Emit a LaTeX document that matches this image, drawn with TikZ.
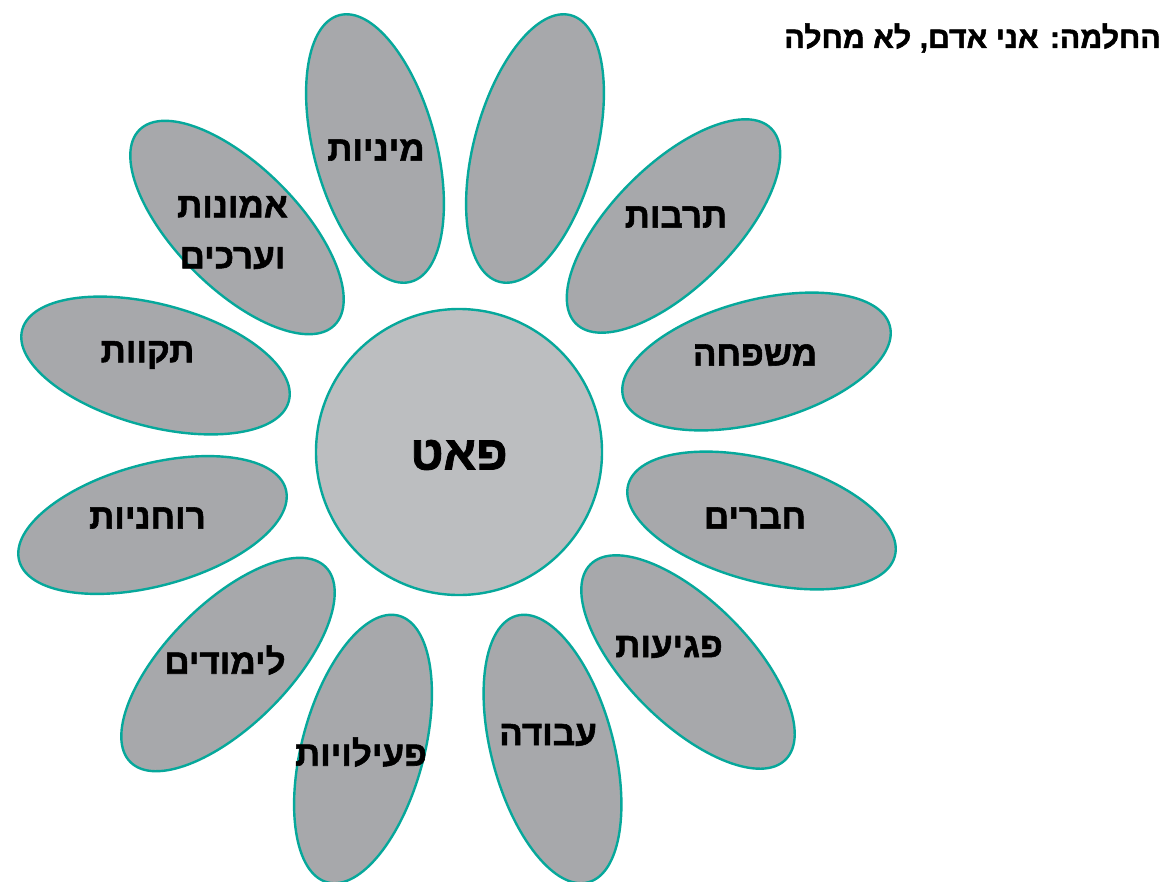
\documentclass[tikz,border=0pt]{standalone}
\usepackage{fontspec}
\setmainfont{Liberation Sans}
\newfontfamily\heb[Script=Hebrew, FakeBold=1.6]{Liberation Sans Bold}
\TeXXeTstate=1
\usetikzlibrary{shapes.geometric}
\definecolor{petalline}{HTML}{06A89B}
\definecolor{petalfill}{HTML}{A7A8AB}
\definecolor{corefill}{HTML}{BCBEC0}
\begin{document}
\begin{tikzpicture}[x=1pt,y=-1pt,
  petal/.style={ellipse, draw=petalline, line width=2.4pt, fill=petalfill,
    minimum width=276pt, minimum height=122pt, inner sep=0pt},
  core/.style={circle, draw=petalline, line width=2.4pt, fill=corefill,
    minimum size=286pt, inner sep=0pt},
  lbl/.style={font=\heb\fontsize{35}{51}\selectfont, inner sep=0pt, align=center},
  corelbl/.style={font=\heb\fontsize{48}{50}\selectfont, inner sep=0pt},
  titlelbl/.style={font=\heb\fontsize{30.3}{32}\selectfont, inner sep=0pt, anchor=east}]
\useasboundingbox (0,0) rectangle (1169,881);
\fill[white] (0,0) rectangle (1169,881);
% petals
\node[petal, rotate=105]  (p1)  at (375,148.5) {};
\node[petal, rotate=75]   (p2)  at (535,148.5) {};
\node[petal, rotate=45]   (p3)  at (673.5,226) {};
\node[petal, rotate=15]   (p4)  at (756.5,361.5) {};
\node[petal, rotate=-15]  (p5)  at (761.5,520.5) {};
\node[petal, rotate=-45]  (p6)  at (688,662) {};
\node[petal, rotate=-75]  (p7)  at (552.5,749) {};
\node[petal, rotate=-105] (p8)  at (363,749) {};
\node[petal, rotate=-135] (p9)  at (228,664.5) {};
\node[petal, rotate=-165] (p10) at (152.5,525) {};
\node[petal, rotate=165]  (p11) at (155.5,365.5) {};
\node[petal, rotate=135]  (p12) at (237,227.5) {};
% centre
\node[core] (core) at (459,452) {};
% labels
\node[lbl] (l1)  at (376,150) {\beginR מיניות\endR};
\node[lbl] (l3)  at (676,217) {\beginR תרבות\endR};
\node[lbl] (l4)  at (755,355) {\beginR משפחה\endR};
\node[lbl] (l5)  at (755,518) {\beginR חברים\endR};
\node[lbl] (l6)  at (669,647) {\beginR פגיעות\endR};
\node[lbl] (l7)  at (548,735) {\beginR עבודה\endR};
\node[lbl] (l8)  at (361,752) {\beginR פעילויות\endR};
\node[lbl] (l9)  at (225,660) {\beginR לימודים\endR};
\node[lbl] (l10) at (147.5,518) {\beginR רוחניות\endR};
\node[lbl] (l11) at (147.5,355) {\beginR תקוות\endR};
\node[lbl] (l12) at (232.5,232.5) {\beginR אמונות\endR\\\beginR וערכים\endR};
\node[corelbl] (lc) at (459,455) {\beginR פאט\endR};
\node[titlelbl] (title) at (1161,38) {\beginR החלמה: אני אדם, לא מחלה\endR};
\end{tikzpicture}
\end{document}
